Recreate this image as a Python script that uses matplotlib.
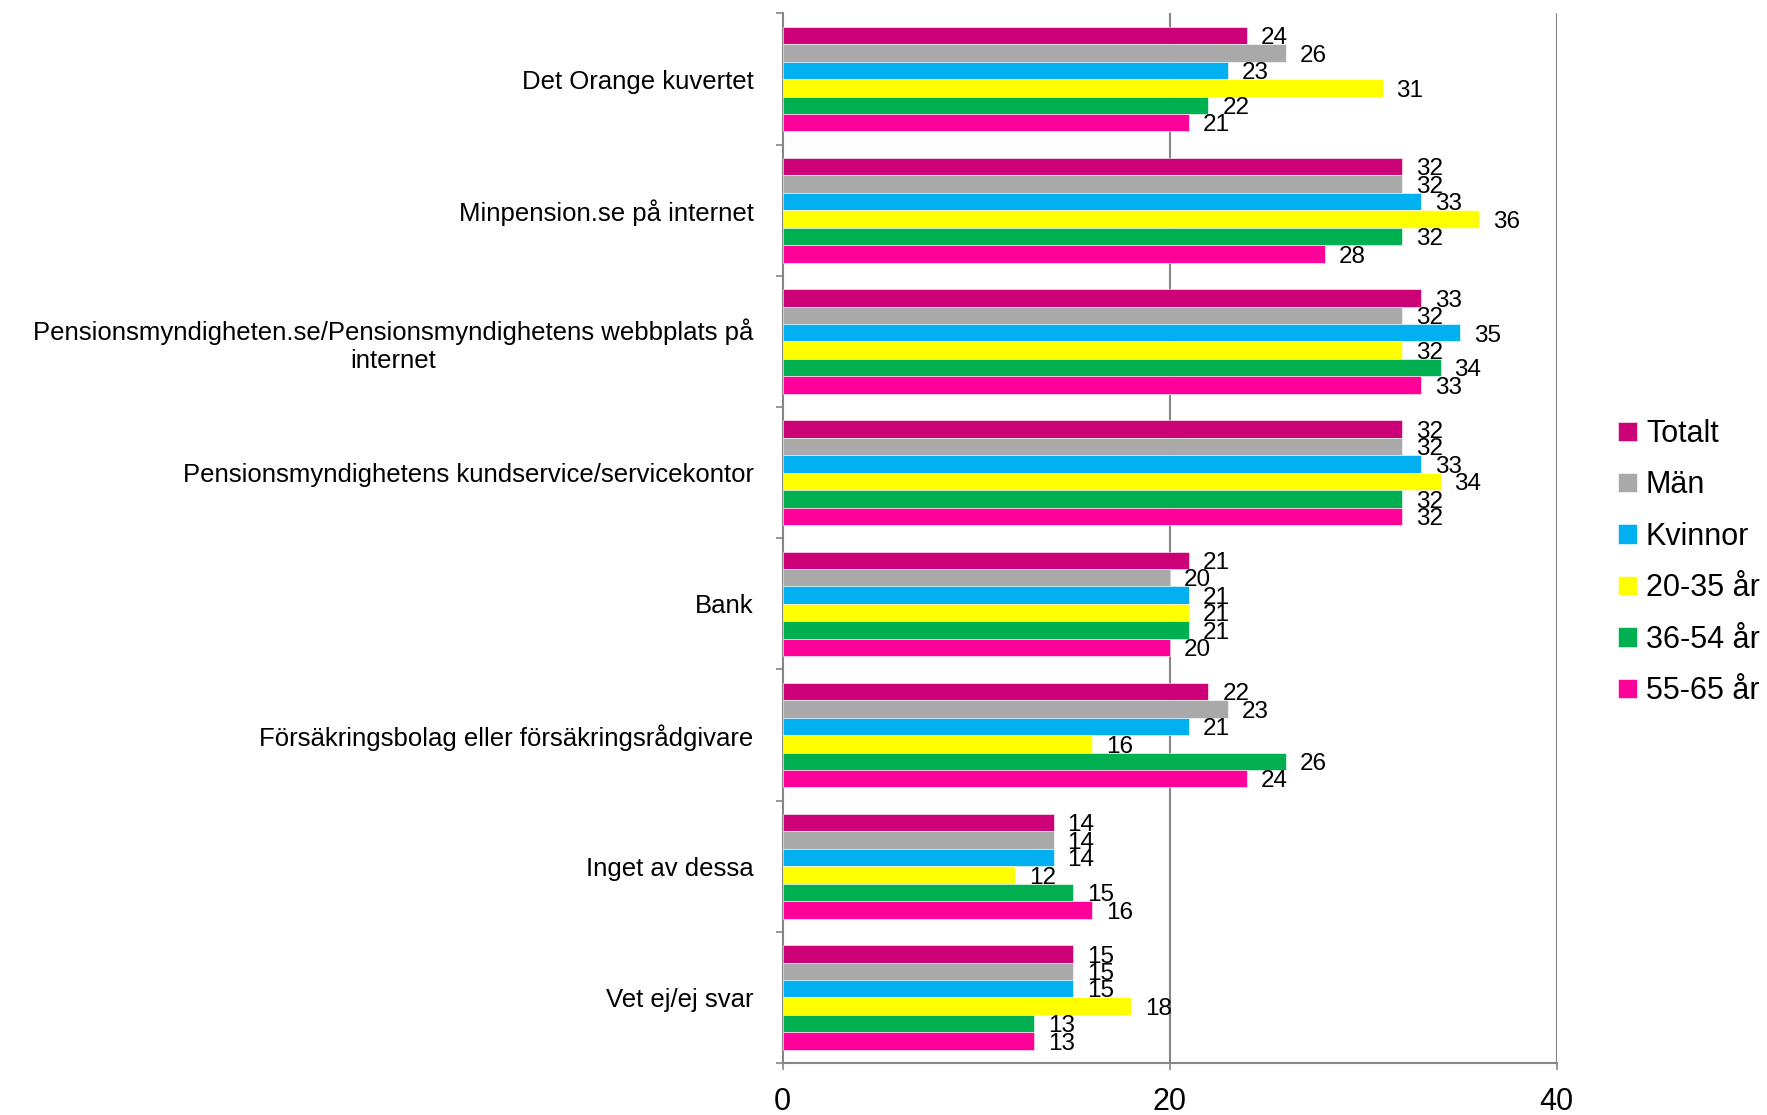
import numpy as np
import matplotlib
matplotlib.use('Agg')
import matplotlib.pyplot as plt

plt.rcParams['font.family'] = ['Liberation Sans', 'DejaVu Sans']

# Categories (top to bottom) and series
categories = [
    'Det Orange kuvertet',
    'Minpension.se på internet',
    'Pensionsmyndigheten.se/Pensionsmyndighetens webbplats på\ninternet',
    'Pensionsmyndighetens kundservice/servicekontor',
    'Bank',
    'Försäkringsbolag eller försäkringsrådgivare',
    'Inget av dessa',
    'Vet ej/ej svar',
]
series_names = ['Totalt', 'Män', 'Kvinnor', '20-35 år', '36-54 år', '55-65 år']
totalt = [24, 32, 33, 32, 21, 22, 14, 15]
man = [26, 32, 32, 32, 20, 23, 14, 15]
kvinnor = [23, 33, 35, 33, 21, 21, 14, 15]
age_20_35 = [31, 36, 32, 34, 21, 16, 12, 18]
age_36_54 = [22, 32, 34, 32, 21, 26, 15, 13]
age_55_65 = [21, 28, 33, 32, 20, 24, 16, 13]
series_values = [totalt, man, kvinnor, age_20_35, age_36_54, age_55_65]
colors = ['#CC0077', '#A9A9A9', '#00B0F0', '#FFFF00', '#00B050', '#FF0099']

fig = plt.figure(figsize=(17.67, 11.15), dpi=100)
ax = fig.add_axes([0.443, 0.0466, 0.438, 0.9413])

y = np.arange(len(categories))
h = 0.133
for j, (name, vals, col) in enumerate(zip(series_names, series_values, colors)):
    ypos = y + (j - 2.5) * h
    ax.barh(ypos, vals, height=h, color=col, label=name,
            edgecolor='white', linewidth=0.4, zorder=3)
    # value labels just right of each bar
    for v, yy in zip(vals, ypos):
        ax.annotate(str(v), xy=(v, yy), xytext=(10, -2), textcoords='offset points',
                    ha='left', va='center', fontsize=17.5, zorder=4)

ax.set_xlim(0, 40)
ax.set_ylim(len(categories) - 0.5, -0.5)

# grid lines
for gx in [20, 40]:
    ax.axvline(gx, color='#868686', linewidth=1.5, zorder=1)

ax.set_xticks([0, 20, 40])
ax.set_xticklabels(['0', '20', '40'], fontsize=22)
ax.tick_params(axis='x', length=5, color='#868686', width=1.2, pad=12)

ax.set_yticks(y)
ax.set_yticklabels(categories, fontsize=18.5, multialignment='center')
ax.tick_params(axis='y', which='major', length=0, pad=21)
ax.set_yticks(np.arange(len(categories) + 1) - 0.5, minor=True)
ax.tick_params(axis='y', which='minor', length=5, color='#868686', width=1.2)

for s in ['top', 'right']:
    ax.spines[s].set_visible(False)
for s in ['left', 'bottom']:
    ax.spines[s].set_color('#868686')
    ax.spines[s].set_linewidth(1.5)

fig.legend(loc='center left', bbox_to_anchor=(0.909, 0.4955), frameon=False,
           fontsize=22, handlelength=0.6, handleheight=0.6, handletextpad=0.3,
           labelspacing=0.7, borderaxespad=0)

fig.savefig('out.png', dpi=100)
